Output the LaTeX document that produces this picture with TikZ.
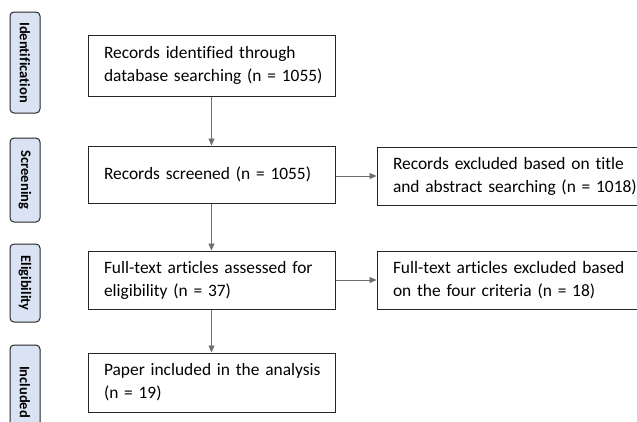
\documentclass[tikz,border=0pt]{standalone}
\usepackage{fontspec}
\setmainfont[Ligatures=NoCommon]{Carlito}
\usetikzlibrary{arrows.meta}
\definecolor{sidefill}{HTML}{DAE3F3}
\definecolor{boxline}{HTML}{262626}
\definecolor{arrline}{HTML}{6E6E6E}
\tikzset{
  mainbox/.style={draw=boxline, line width=1pt, rectangle, fill=white,
    inner xsep=16pt, inner ysep=0pt, align=left, anchor=center,
    font=\fontsize{17.4}{23}\selectfont},
  sidebox/.style={draw=boxline, line width=1pt, rounded corners=4pt, fill=sidefill,
    rotate=-90, minimum height=30pt, inner sep=0pt, anchor=center,
    font=\fontsize{14.5}{16}\selectfont\bfseries},
  arr/.style={draw=arrline, line width=0.8pt, -{Triangle[length=7pt,width=6pt]}}
}
\begin{document}
\begin{tikzpicture}[x=1pt,y=-1pt]
\useasboundingbox (0,0) rectangle (637,421);
\node[sidebox, minimum width=101pt] (sid) at (25,62.5) {Identification};
\node[sidebox, minimum width=84pt] (sscr) at (25,180) {Screening};
\node[sidebox, minimum width=78pt] (selig) at (25,283) {Eligibility};
\node[sidebox, minimum width=94pt] (sinc) at (25,392) {Included};

\node[mainbox, text width=215pt, minimum height=61pt] (b1) at (211.5,65.5)
  {\mbox{Records identified through}\\\mbox{database searching (n = 1055)}};
\node[mainbox, text width=215pt, minimum height=57pt] (b2) at (211.5,174.5)
  {\mbox{Records screened (n = 1055)}};
\node[mainbox, text width=215pt, minimum height=58pt] (b3) at (211.5,280)
  {\mbox{Full-text articles assessed for}\\\mbox{eligibility (n = 37)}};
\node[mainbox, text width=215pt, minimum height=59pt] (b4) at (211.5,382.5)
  {\mbox{Paper included in the analysis}\\\mbox{(n = 19)}};
\node[mainbox, text width=248pt, minimum height=58pt] (r1) at (517,176)
  {\mbox{Records excluded based on title}\\\mbox{and abstract searching (n = 1018)}};
\node[mainbox, text width=248pt, minimum height=58pt] (r2) at (517,280)
  {\mbox{Full-text articles excluded based}\\\mbox{on the four criteria (n = 18)}};

\draw[arr] (b1) -- (b2);
\draw[arr] (b2) -- (b3);
\draw[arr] (b3) -- (b4);
\draw[arr] (b2.east |- r1.west) -- (r1.west);
\draw[arr] (b3) -- (r2);
\end{tikzpicture}
\end{document}
